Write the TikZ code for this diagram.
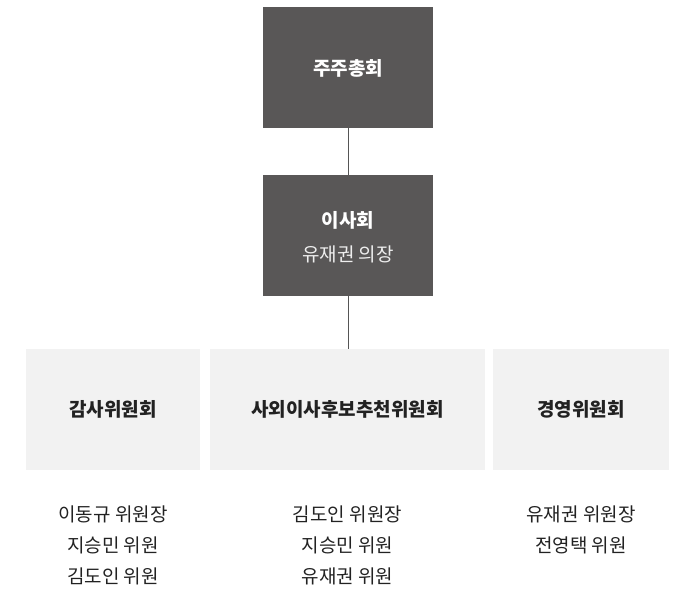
\documentclass[tikz,border=0pt]{standalone}
\usepackage{fontspec}
\setmainfont{Noto Sans CJK KR}
\definecolor{darkbox}{HTML}{595757}
\definecolor{lightbox}{HTML}{F2F2F2}
\definecolor{linec}{HTML}{555555}
\definecolor{txt}{HTML}{222222}
\definecolor{subtxt}{HTML}{EEEEEE}
\tikzset{
  darknode/.style={fill=darkbox, draw=none, minimum width=170pt, minimum height=121pt, inner sep=0pt},
  lightnode/.style={fill=lightbox, draw=none, minimum height=121pt, inner sep=0pt},
  conn/.style={draw=linec, line width=0.9pt},
  ttl/.style={font=\fontsize{19}{22}\selectfont\bfseries, inner sep=0pt},
  member/.style={font=\fontsize{19}{22}\selectfont, text=txt, anchor=base, inner sep=0pt}
}
\begin{document}
\begin{tikzpicture}[x=1pt,y=-1pt]
\useasboundingbox (0,0) rectangle (695,590);
\node[darknode] (gm) at (348,67.5) {};
\node[ttl, text=white] (gmt) at (348,68) {주주총회};
\node[darknode] (bd) at (348,235.5) {};
\node[ttl, text=white] (bdt) at (348,220) {이사회};
\node[font=\fontsize{19}{22}\selectfont, text=subtxt, inner sep=0pt] (bds) at (348,254) {유재권 의장};
\node[lightnode, minimum width=174pt] (ac) at (113,409.5) {};
\node[lightnode, minimum width=275pt] (nc) at (347.5,409.5) {};
\node[lightnode, minimum width=176pt] (mc) at (581,409.5) {};
\node[ttl, text=txt] (act) at (ac) {감사위원회};
\node[ttl, text=txt] (nct) at (nc) {사외이사후보추천위원회};
\node[ttl, text=txt] (mct) at (mc) {경영위원회};
\draw[conn] (gm.south) -- (bd.north);
\draw[conn] (bd.south) -- (bd.south |- nc.north);
\node[member] (a1) at (113,521) {이동규 위원장};
\node[member] (a2) at (113,552) {지승민 위원};
\node[member] (a3) at (113,583) {김도인 위원};
\node[member] (n1) at (347.5,521) {김도인 위원장};
\node[member] (n2) at (347.5,552) {지승민 위원};
\node[member] (n3) at (347.5,583) {유재권 위원};
\node[member] (m1) at (581,521) {유재권 위원장};
\node[member] (m2) at (581,552) {전영택 위원};
\end{tikzpicture}
\end{document}
